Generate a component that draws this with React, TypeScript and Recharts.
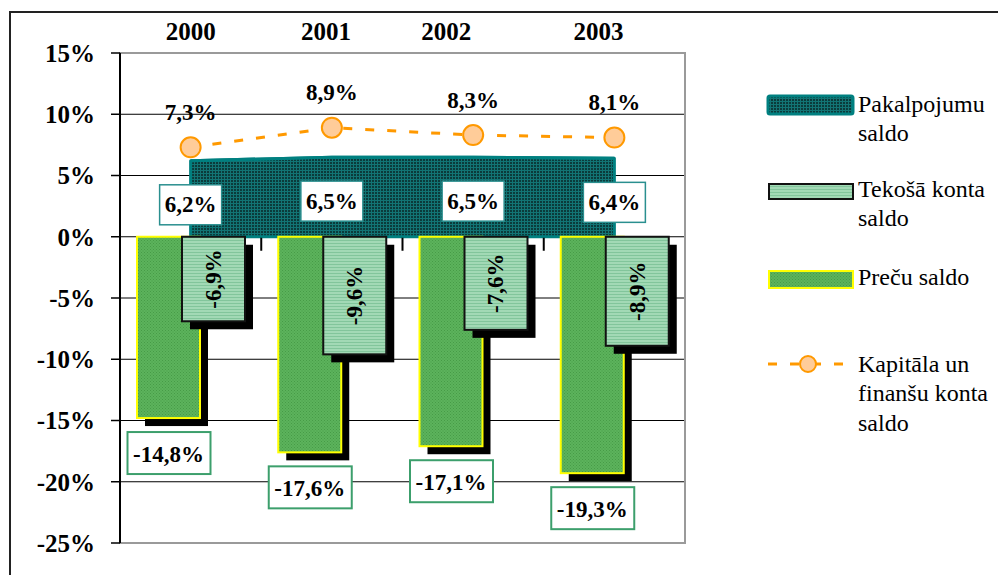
import React from 'react';
import {
  ComposedChart, Bar, Area, Line, XAxis, YAxis, CartesianGrid,
  ReferenceLine, ReferenceArea, LabelList,
} from 'recharts';

const years = ['2000', '2001', '2002', '2003'];
const pakalpojumu = [6.2, 6.5, 6.5, 6.4];
const tekosa = [-6.9, -9.6, -7.6, -8.9];
const precu = [-14.8, -17.6, -17.1, -19.3];
const kapitala = [7.3, 8.9, 8.3, 8.1];
const yTicks = [15, 10, 5, 0, -5, -10, -15, -20, -25];
const legendLabels = [
  ['Pakalpojumu', 'saldo'],
  ['Tekošā konta', 'saldo'],
  ['Preču saldo'],
  ['Kapitāla un', 'finanšu konta', 'saldo'],
];

const data = years.map((year, i) => ({
  year,
  pak: pakalpojumu[i],
  tek: tekosa[i],
  pre: precu[i],
  kap: kapitala[i],
}));

const FONT = '"Liberation Serif", "Times New Roman", serif';
const fmt = (v: number) => v.toFixed(1).replace('.', ',') + '%';

// small horizontal nudges of the year captions, as placed in the original
const yearNudge = [0, -6, -27, -16];

const YearTick = (props: any) => {
  const { x, y, payload, index } = props;
  const dx = yearNudge[index] || 0;
  return (
    <text x={x + dx} y={y} textAnchor="middle" fontFamily={FONT} fontWeight="bold" fontSize={25} fill="#000">
      {payload.value}
    </text>
  );
};

const makeShadowBar = (fill: string, stroke: string) => (props: any) => {
  const { x, y, width, height } = props;
  if (x == null || y == null) return null;
  const top = Math.min(y, y + height);
  const h = Math.abs(height);
  return (
    <g>
      <rect x={x + 8} y={top + 8} width={width} height={h} fill="#000" />
      <rect x={x} y={top} width={width} height={h} fill={fill} stroke={stroke} strokeWidth={2} />
    </g>
  );
};

const GreenBar = makeShadowBar('url(#patGreen)', '#FFFF00');
const LightBar = makeShadowBar('url(#patLight)', '#111');

const PrecuLabel = (props: any) => {
  const { x, y, width, height, value } = props;
  const bottom = Math.max(y, y + height);
  const cx = x + width / 2;
  return (
    <g>
      <rect x={cx - 41} y={bottom + 14} width={83} height={42} fill="#fff" stroke="#3c9f6c" strokeWidth={2} />
      <text x={cx} y={bottom + 36} textAnchor="middle" dominantBaseline="central"
        fontFamily={FONT} fontWeight="bold" fontSize={23} fill="#000">{fmt(value)}</text>
    </g>
  );
};

const TekLabel = (props: any) => {
  const { x, y, width, height, value } = props;
  const top = Math.min(y, y + height);
  const cx = x + width / 2;
  const cy = top + Math.abs(height) / 2;
  return (
    <text x={cx} y={cy} textAnchor="middle" dominantBaseline="central"
      transform={`rotate(-90, ${cx}, ${cy})`}
      fontFamily={FONT} fontWeight="bold" fontSize={23} fill="#000">{fmt(value)}</text>
  );
};

const PakLabel = (props: any) => {
  const { x, y, value } = props;
  return (
    <g>
      <rect x={x - 31} y={y + 24} width={62} height={40} fill="#fff" stroke="#2a8f8f" strokeWidth={1.5} />
      <text x={x} y={y + 44} textAnchor="middle" dominantBaseline="central"
        fontFamily={FONT} fontWeight="bold" fontSize={23} fill="#000">{fmt(value)}</text>
    </g>
  );
};

const KapLabel = (props: any) => {
  const { x, y, value } = props;
  return (
    <text x={x} y={y - 35} textAnchor="middle" dominantBaseline="central"
      fontFamily={FONT} fontWeight="bold" fontSize={23} fill="#000">{fmt(value)}</text>
  );
};

const ZeroTicks = (props: any) => {
  const { x1, y1, x2 } = props;
  if (x1 == null) return null;
  const n = years.length;
  const step = (x2 - x1) / n;
  const ticks = [];
  for (let i = 1; i < n; i++) {
    const tx = x1 + step * i;
    ticks.push(<line key={i} x1={tx} x2={tx} y1={y1 + 1} y2={y1 + 14} stroke="#000" strokeWidth={2} />);
  }
  return <g>{ticks}</g>;
};

const Legend = () => {
  const textProps = { fontFamily: FONT, fontSize: 24, fill: '#000' } as any;
  return (
    <svg width={998} height={575} style={{ position: 'absolute', left: 0, top: 0, pointerEvents: 'none' }}>
      <rect x={768} y={96} width={85} height={18} rx={2} fill="url(#patTeal)" stroke="#008080" strokeWidth={3} />
      <text x={858} y={112} {...textProps}>{legendLabels[0][0]}</text>
      <text x={858} y={141} {...textProps}>{legendLabels[0][1]}</text>

      <rect x={769} y={184} width={84} height={15} fill="url(#patLight)" stroke="#111" strokeWidth={2} />
      <text x={858} y={197} {...textProps}>{legendLabels[1][0]}</text>
      <text x={858} y={226} {...textProps}>{legendLabels[1][1]}</text>

      <rect x={769} y={271} width={84} height={17} fill="url(#patGreen)" stroke="#FFFF00" strokeWidth={2} />
      <text x={858} y={285} {...textProps}>{legendLabels[2][0]}</text>

      <line x1={768} x2={848} y1={364} y2={364} stroke="#FF9900" strokeWidth={3} strokeDasharray="9 13" />
      <circle cx={808} cy={364} r={8} fill="#FFCC99" stroke="#FF9900" strokeWidth={2} />
      <text x={858} y={372} {...textProps}>{legendLabels[3][0]}</text>
      <text x={858} y={401} {...textProps}>{legendLabels[3][1]}</text>
      <text x={858} y={431} {...textProps}>{legendLabels[3][2]}</text>
    </svg>
  );
};

export default function App() {
  return (
    <div style={{ position: 'absolute', left: 0, top: 0, width: 998, height: 575, overflow: 'hidden', background: '#fff' }}>
      <style>{`.pak-area .recharts-area-area { stroke: #008080; stroke-width: 3px; stroke-linejoin: round; }`}</style>
      <svg width={0} height={0} style={{ position: 'absolute' }}>
        <defs>
          <pattern id="patTeal" width="3" height="3" patternUnits="userSpaceOnUse">
            <rect width="3" height="3" fill="#127474" />
            <rect width="2" height="2" fill="#0b3b3b" />
          </pattern>
          <pattern id="patGreen" width="3" height="3" patternUnits="userSpaceOnUse">
            <rect width="3" height="3" fill="#5cb35c" />
            <rect width="1" height="1" fill="#479b47" />
            <rect x="1.5" y="1.5" width="1" height="1" fill="#479b47" />
          </pattern>
          <pattern id="patLight" width="3" height="3" patternUnits="userSpaceOnUse">
            <rect width="3" height="3" fill="#a2d9b5" />
            <rect width="3" height="1" fill="#82c59b" />
          </pattern>
        </defs>
      </svg>
      <div style={{ position: 'absolute', left: 9, top: 11, width: 1100, height: 700, border: '2px solid #222' }} />
      <div style={{ position: 'absolute', left: 0, top: 0 }}>
        <ComposedChart width={998} height={575} data={data}
          margin={{ top: 0, right: 313, bottom: 32, left: 0 }}
          barSize={63} barGap={-18}>
          <CartesianGrid vertical={false} stroke="#000" strokeWidth={1} />
          <ReferenceArea y1={-25} y2={15} fill="none" stroke="#9a9a9a" strokeWidth={2} ifOverflow="visible" />
          <XAxis dataKey="year" orientation="top" height={53} axisLine={false} tickLine={false}
            tickSize={0} tickMargin={13} interval={0} tick={YearTick} />
          <YAxis type="number" domain={[-25, 15]} ticks={yTicks} interval={0} width={120}
            tickFormatter={(v: number) => `${v}%`}
            axisLine={{ stroke: '#000', strokeWidth: 2 }} tickLine={{ stroke: '#000', strokeWidth: 1.5 }}
            tickSize={9} tickMargin={16}
            tick={{ fontFamily: FONT, fontWeight: 'bold', fontSize: 25, fill: '#000' }} />
          <Area className="pak-area" type="linear" dataKey="pak" baseValue={0} stroke="#008080" strokeWidth={3}
            fill="url(#patTeal)" fillOpacity={1} isAnimationActive={false} dot={false} activeDot={false}>
            <LabelList dataKey="pak" content={PakLabel} />
          </Area>
          <Bar dataKey="pre" shape={GreenBar} isAnimationActive={false}>
            <LabelList dataKey="pre" content={PrecuLabel} />
          </Bar>
          <Bar dataKey="tek" shape={LightBar} isAnimationActive={false}>
            <LabelList dataKey="tek" content={TekLabel} />
          </Bar>
          <ReferenceLine y={0} stroke="none" shape={ZeroTicks} ifOverflow="visible" />
          <Line type="linear" dataKey="kap" stroke="#FF9900" strokeWidth={3} strokeDasharray="9 13"
            dot={{ r: 10, fill: '#FFCC99', stroke: '#FF9900', strokeWidth: 2, strokeDasharray: '' }}
            activeDot={false} isAnimationActive={false}>
            <LabelList dataKey="kap" content={KapLabel} />
          </Line>
        </ComposedChart>
      </div>
      <Legend />
    </div>
  );
}
